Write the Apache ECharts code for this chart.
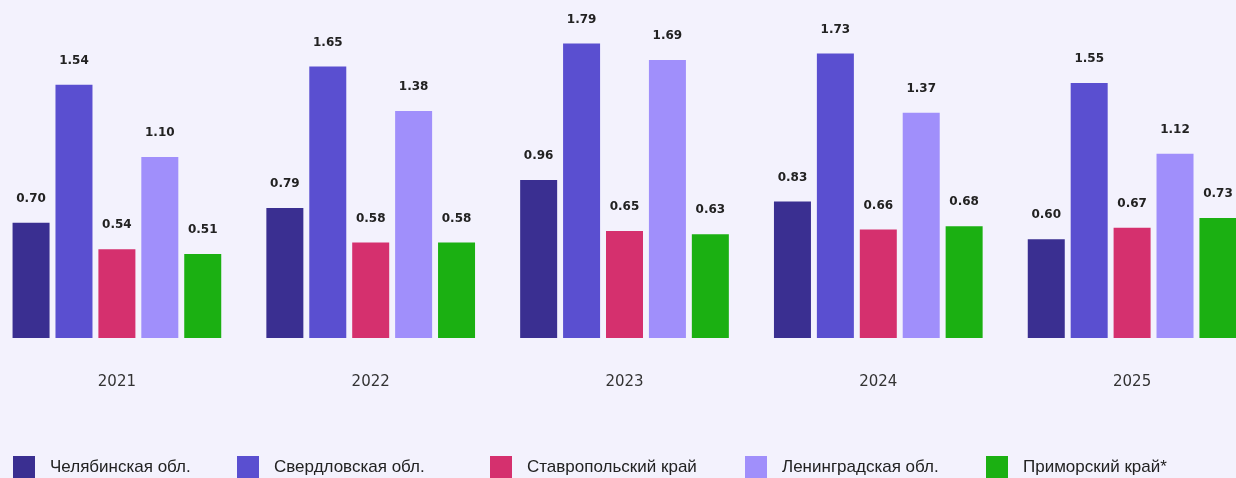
<!DOCTYPE html>
<html>
<head>
<meta charset="utf-8">
<style>
  html, body { margin: 0; padding: 0; background: #f3f2fd; overflow: hidden; width: 1236px; height: 478px; }
  #chart { position: absolute; left: -10px; top: 0; width: 1269px; height: 478px; }
</style>
<script src="https://cdn.jsdelivr.net/npm/echarts@6/dist/echarts.min.js"></script>
</head>
<body>
<div id="chart"></div>
<script>
// Years shown along the horizontal axis
const years = ['2021', '2022', '2023', '2024', '2025'];

// Region names (legend entries)
const regions = ['Челябинская обл.', 'Свердловская обл.', 'Ставропольский край', 'Ленинградская обл.', 'Приморский край*'];

// Values per region, one entry per year
const chelyabinsk = [0.70, 0.79, 0.96, 0.83, 0.60];
const sverdlovsk  = [1.54, 1.65, 1.79, 1.73, 1.55];
const stavropol   = [0.54, 0.58, 0.65, 0.66, 0.67];
const leningrad   = [1.10, 1.38, 1.69, 1.37, 1.12];
const primorsky   = [0.51, 0.58, 0.63, 0.68, 0.73];

const seriesValues = [chelyabinsk, sverdlovsk, stavropol, leningrad, primorsky];
const colors = ['#3a2f91', '#5a4fd0', '#d5306e', '#a08ffb', '#1bb012'];

// Legend item horizontal positions (the chart canvas starts 10px left of the page)
const legendLeft = [23, 247, 500, 755, 996];

const chart = echarts.init(document.getElementById('chart'), null, { renderer: 'canvas' });

const series = regions.map((name, i) => ({
  name: name,
  type: 'bar',
  data: seriesValues[i],
  barWidth: 37,
  barGap: '16%',
  itemStyle: { color: colors[i] },
  label: {
    show: true,
    position: 'top',
    distance: 18,
    formatter: p => p.value.toFixed(2),
    color: '#222',
    fontFamily: 'DejaVu Sans, sans-serif',
    fontWeight: 'bold',
    fontSize: 12
  }
}));

const legends = regions.map((name, i) => ({
  data: [name],
  left: legendLeft[i],
  top: 456,
  padding: 0,
  icon: 'rect',
  itemWidth: 22,
  itemHeight: 22,
  selectedMode: false,
  textStyle: {
    color: '#222',
    fontSize: 17,
    fontFamily: 'Liberation Sans, Arial, sans-serif',
    padding: [0, 0, 0, 10]
  }
}));

chart.setOption({
  backgroundColor: '#f3f2fd',
  animation: false,
  color: colors,
  legend: legends,
  grid: { left: 0, right: 0, top: 9, bottom: 140, containLabel: false },
  xAxis: {
    type: 'category',
    data: years,
    axisLine: { show: false },
    axisTick: { show: false },
    axisLabel: {
      margin: 37,
      color: '#333',
      fontSize: 15,
      fontFamily: 'DejaVu Sans, sans-serif'
    }
  },
  yAxis: {
    type: 'value',
    min: 0,
    max: 2,
    show: false,
    splitLine: { show: false }
  },
  series: series
});
</script>
</body>
</html>
